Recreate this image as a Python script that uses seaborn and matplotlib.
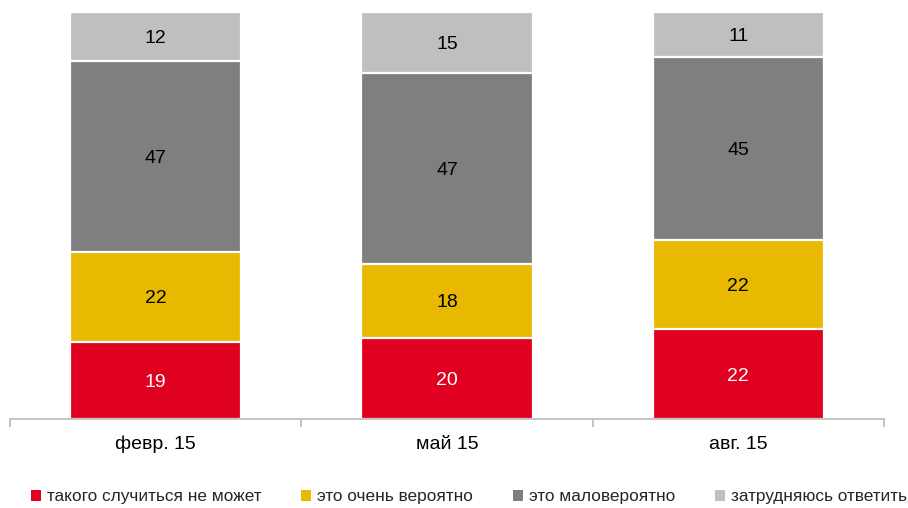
import matplotlib
matplotlib.use("Agg")
import matplotlib.pyplot as plt
from matplotlib.patches import Patch
from matplotlib.ticker import FixedLocator
import numpy as np
import pandas as pd
import seaborn as sns

# Survey waves and answer shares (%)
periods = ["февр. 15", "май 15", "авг. 15"]
series_names = ["такого случиться не может", "это очень вероятно",
                "это маловероятно", "затрудняюсь ответить"]
cannot_happen = [19, 20, 22]
very_likely = [22, 18, 22]
unlikely = [47, 47, 45]
hard_to_say = [12, 15, 11]

colors = ["#E0001F", "#E8B900", "#7F7F7F", "#BFBFBF"]
label_colors = ["white", "black", "black", "black"]

sns.set_theme(style="white")
plt.rcParams["font.family"] = ["Liberation Sans", "DejaVu Sans"]

values = [cannot_happen, very_likely, unlikely, hard_to_say]
cum = np.cumsum(np.array(values), axis=0)

fig = plt.figure(figsize=(9.08, 5.08), dpi=100)
ax = fig.add_axes([10 / 908, 1 - 419 / 508, 874 / 908, 407 / 508])

# Draw cumulative totals from the top segment down so each layer overlays the next
for i in range(len(values) - 1, -1, -1):
    df = pd.DataFrame({"period": periods, "total": cum[i]})
    sns.barplot(data=df, x="period", y="total", color=colors[i], width=0.587,
                saturation=1, edgecolor="white", linewidth=1.6, ax=ax)

for i, vals in enumerate(values):
    for j, v in enumerate(vals):
        ax.text(j, cum[i][j] - v / 2, str(v), ha="center", va="center_baseline",
                fontsize=14, color=label_colors[i])

ax.set_xlim(-0.5, 2.5)
ax.set_ylim(0, 100)
ax.set_xlabel("")
ax.set_ylabel("")
ax.set_yticks([])
for s in ["top", "right", "left"]:
    ax.spines[s].set_visible(False)
ax.spines["bottom"].set_color("#BFBFBF")
ax.spines["bottom"].set_linewidth(1.3)
ax.xaxis.set_minor_locator(FixedLocator([-0.5, 0.5, 1.5, 2.5]))
ax.tick_params(axis="x", which="major", length=0, pad=12, labelsize=14,
               labelcolor="black")
ax.tick_params(axis="x", which="minor", bottom=True, length=6, width=1.3,
               color="#BFBFBF")

handles = [Patch(facecolor=c, edgecolor="none") for c in colors]
fig.legend(handles, series_names, loc="center", bbox_to_anchor=(469 / 908, 1 - 497 / 508),
           ncol=4, frameon=False, fontsize=12.4, handlelength=0.6, handleheight=0.6,
           handletextpad=0.35, columnspacing=2.3, borderpad=0.2)

fig.savefig("out.png", dpi=100)
